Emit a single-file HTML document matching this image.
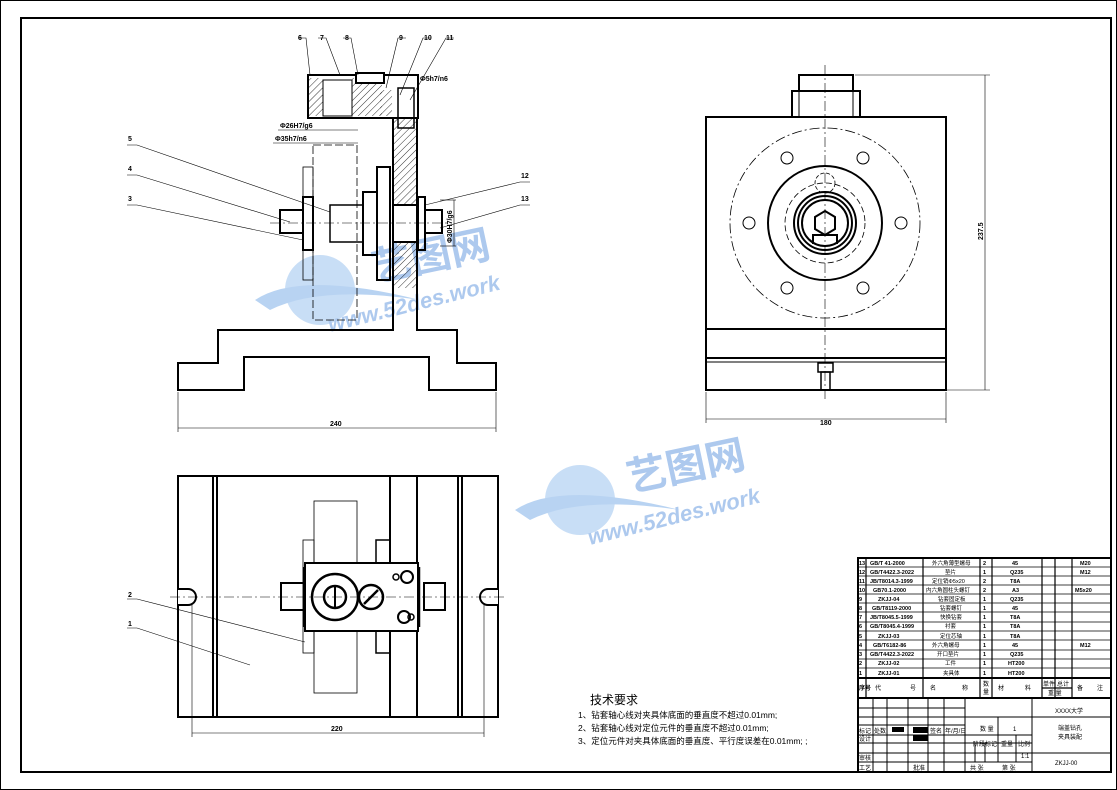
<!DOCTYPE html>
<html><head><meta charset="utf-8"><style>
html,body{margin:0;padding:0;background:#fff}
svg{display:block}
text{font-family:"Liberation Sans","Noto Sans CJK SC",sans-serif;fill:#000}
</style></head><body>
<svg width="1117" height="790" viewBox="0 0 1117 790" xmlns="http://www.w3.org/2000/svg">
<defs>
<pattern id="h" width="5" height="5" patternUnits="userSpaceOnUse" patternTransform="rotate(45)"><line x1="0" y1="0" x2="0" y2="5" stroke="#000" stroke-width="0.8"/></pattern>
</defs>
<rect x="0.5" y="0.5" width="1116" height="789" fill="none" stroke="#000" stroke-width="1"/>
<rect x="21" y="18" width="1090" height="754" fill="none" stroke="#000" stroke-width="2"/>

<!-- watermarks -->
<g opacity="0.55">
<ellipse cx="320" cy="290" rx="35" ry="35" fill="#9cc3ee"/>
<path d="M255,300 Q300,270 420,300 Q320,285 270,310Z" fill="#7fb0e8"/>
<text x="375" y="282" font-size="40" font-weight="bold" fill="#6a9de0" style="fill:#6a9de0" transform="rotate(-12 375 282)">艺图网</text>
<text x="330" y="332" font-size="22" font-weight="bold" font-style="italic" style="fill:#6a9de0" transform="rotate(-14 330 332)">www.52des.work</text>
<ellipse cx="580" cy="500" rx="35" ry="35" fill="#9cc3ee"/>
<path d="M515,510 Q560,480 680,510 Q580,495 530,520Z" fill="#7fb0e8"/>
<text x="630" y="492" font-size="40" font-weight="bold" style="fill:#6a9de0" transform="rotate(-12 630 492)">艺图网</text>
<text x="590" y="545" font-size="22" font-weight="bold" font-style="italic" style="fill:#6a9de0" transform="rotate(-14 590 545)">www.52des.work</text>
</g>

<!-- FRONT VIEW -->
<g fill="none" stroke="#000">
<polygon stroke-width="2" points="178,390 178,363 218,363 218,330 393,330 393,118 417,118 417,330 457,330 457,363 496,363 496,390 429,390 429,357 244,357 244,390"/>
<rect x="393" y="118" width="24" height="170" fill="url(#h)" stroke-width="0"/>
<rect x="308" y="75" width="110" height="43" stroke-width="2"/>
<rect x="309" y="78" width="14" height="38" fill="url(#h)" stroke-width="0"/>
<rect x="352" y="78" width="30" height="38" fill="url(#h)" stroke-width="0"/>
<rect x="380" y="90" width="12" height="26" fill="url(#h)" stroke-width="0"/>
<rect x="323" y="80" width="29" height="36" stroke-width="1"/>
<rect x="356" y="73" width="28" height="10" stroke-width="2" fill="#fff"/>
<rect x="398" y="88" width="16" height="40" stroke-width="1.5"/>
<rect x="303" y="197" width="10" height="53" stroke-width="2"/>
<rect x="280" y="210" width="23" height="23" stroke-width="2"/>
<rect x="330" y="205" width="33" height="37" stroke-width="1.5"/>
<rect x="363" y="192" width="14" height="63" stroke-width="2"/>
<rect x="377" y="167" width="13" height="113" stroke-width="2"/>
<rect x="393" y="205" width="24" height="37" fill="#fff" stroke-width="2"/>
<rect x="418" y="197" width="7" height="53" stroke-width="2"/>
<rect x="425" y="210" width="17" height="23" stroke-width="2"/>
<rect x="313" y="145" width="44" height="175" stroke-width="0.8" stroke-dasharray="8,3"/>
<rect x="303" y="167" width="10" height="113" stroke-width="0.8"/>
<line x1="270" y1="223" x2="450" y2="223" stroke-width="0.6" stroke-dasharray="10,3,2,3"/>
<line x1="278" y1="130" x2="358" y2="130" stroke-width="0.6"/>
<line x1="273" y1="143" x2="358" y2="143" stroke-width="0.6"/>
<line x1="178" y1="392" x2="178" y2="432" stroke-width="0.6"/>
<line x1="496" y1="392" x2="496" y2="432" stroke-width="0.6"/>
<line x1="178" y1="428" x2="496" y2="428" stroke-width="0.6"/>
<g stroke-width="0.6">
<polyline points="298,38 306,38 310,75"/><polyline points="318,38 326,38 340,75"/><polyline points="343,38 351,38 358,75"/>
<polyline points="406,38 398,38 386,88"/><polyline points="431,38 423,38 400,95"/><polyline points="454,38 446,38 410,100"/>
<polyline points="127,145 137,145 330,212"/><polyline points="127,175 137,175 290,222"/><polyline points="127,205 137,205 303,240"/>
<polyline points="530,182 520,182 425,205"/><polyline points="530,205 520,205 440,228"/>
<line x1="440" y1="200" x2="456" y2="200"/><line x1="440" y1="246" x2="456" y2="246"/><line x1="454" y1="200" x2="454" y2="246"/>
</g>
</g>
<g font-size="7" font-weight="bold">
<text x="298" y="40">6</text><text x="320" y="40">7</text><text x="345" y="40">8</text><text x="399" y="40">9</text><text x="424" y="40">10</text><text x="446" y="40">11</text>
<text x="128" y="141">5</text><text x="128" y="171">4</text><text x="128" y="201">3</text>
<text x="521" y="178">12</text><text x="521" y="201">13</text>
<text x="280" y="128">Φ26H7/g6</text><text x="275" y="141">Φ35h7/n6</text><text x="420" y="81">Φ5h7/n6</text>
<text x="452" y="243" transform="rotate(-90 452 243)">Φ30H7/g6</text>
<text x="330" y="426">240</text>
</g>

<!-- RIGHT VIEW -->
<g fill="none" stroke="#000">
<rect x="706" y="117" width="240" height="273" stroke-width="2"/>
<line x1="706" y1="329" x2="946" y2="329" stroke-width="2"/>
<line x1="706" y1="358" x2="946" y2="358" stroke-width="2"/>
<line x1="706" y1="362" x2="946" y2="362" stroke-width="1"/>
<rect x="792" y="91" width="68" height="26" stroke-width="2"/>
<rect x="799" y="75" width="54" height="16" stroke-width="2"/>
<line x1="799" y1="91" x2="799" y2="117" stroke-width="1"/><line x1="853" y1="91" x2="853" y2="117" stroke-width="1"/>
<rect x="818" y="363" width="15" height="9" stroke-width="1.5"/>
<rect x="821" y="372" width="9" height="18" stroke-width="1.5"/>
<circle cx="825" cy="223" r="95" stroke-width="0.8" stroke-dasharray="10,3,2,3"/>
<g stroke-width="1"><circle cx="901" cy="223" r="6"/><circle cx="749" cy="223" r="6"/><circle cx="863" cy="158" r="6"/><circle cx="787" cy="158" r="6"/><circle cx="863" cy="288" r="6"/><circle cx="787" cy="288" r="6"/></g>
<circle cx="825" cy="223" r="57" stroke-width="2"/>
<circle cx="825" cy="223" r="40" stroke-width="0.8" stroke-dasharray="6,3"/>
<circle cx="825" cy="223" r="31" stroke-width="2"/>
<circle cx="825" cy="223" r="27" stroke-width="2"/>
<circle cx="825" cy="223" r="23" stroke-width="2"/>
<circle cx="825" cy="183" r="10" stroke-width="0.8" stroke-dasharray="4,2"/>
<polygon points="825,211 835,217 835,229 825,235 815,229 815,217" stroke-width="2"/>
<polyline points="813,244 813,235 837,235 837,244" stroke-width="2"/>
<line x1="825" y1="65" x2="825" y2="400" stroke-width="0.6" stroke-dasharray="10,3,2,3"/>
<g stroke-width="0.6">
<line x1="855" y1="75" x2="990" y2="75"/><line x1="946" y1="390" x2="990" y2="390"/><line x1="985" y1="75" x2="985" y2="390"/>
<line x1="706" y1="392" x2="706" y2="423"/><line x1="946" y1="392" x2="946" y2="423"/><line x1="706" y1="419" x2="946" y2="419"/>
</g>
</g>
<g font-size="7" font-weight="bold"><text x="820" y="425">180</text><text x="983" y="240" transform="rotate(-90 983 240)">237.5</text></g>

<!-- TOP VIEW -->
<g fill="none" stroke="#000">
<rect x="178" y="476" width="320" height="241" stroke-width="2"/>
<line x1="213" y1="476" x2="213" y2="717" stroke-width="2"/><line x1="217" y1="476" x2="217" y2="717" stroke-width="2"/>
<line x1="390" y1="476" x2="390" y2="717" stroke-width="2"/><line x1="417" y1="476" x2="417" y2="717" stroke-width="2"/>
<line x1="458" y1="476" x2="458" y2="717" stroke-width="2"/><line x1="462" y1="476" x2="462" y2="717" stroke-width="2"/>
<path d="M178,589 L188,589 A8,8 0 0 1 188,605 L178,605" stroke-width="2" fill="#fff"/>
<path d="M498,589 L488,589 A8,8 0 0 0 488,605 L498,605" stroke-width="2" fill="#fff"/>
<rect x="314" y="501" width="43" height="192" stroke-width="0.8"/>
<rect x="303" y="540" width="11" height="113" stroke-width="0.8"/>
<rect x="376" y="540" width="14" height="113" stroke-width="1.5"/>
<rect x="305" y="563" width="113" height="68" fill="#fff" stroke-width="2"/>
<line x1="304" y1="567" x2="304" y2="627" stroke-width="2.5"/><line x1="419" y1="567" x2="419" y2="627" stroke-width="2.5"/>
<rect x="281" y="583" width="24" height="27" stroke-width="2"/>
<rect x="424" y="583" width="21" height="27" stroke-width="2"/>
<circle cx="335" cy="597" r="23" stroke-width="2.5"/>
<circle cx="335" cy="597" r="11" stroke-width="2.5"/>
<line x1="335" y1="586" x2="335" y2="608" stroke-width="2"/>
<circle cx="371" cy="597" r="12" stroke-width="2.5"/>
<line x1="364" y1="604" x2="378" y2="590" stroke-width="2.5"/>
<circle cx="407" cy="577" r="6" stroke-width="2"/><circle cx="396" cy="577" r="3" stroke-width="1.5"/>
<circle cx="404" cy="617" r="6" stroke-width="2"/><circle cx="411" cy="617" r="3" stroke-width="1.5"/>
<line x1="170" y1="597" x2="505" y2="597" stroke-width="0.6" stroke-dasharray="10,3,2,3"/>
<g stroke-width="0.6">
<polyline points="127,599 137,599 305,642"/><polyline points="127,628 137,628 250,665"/>
<line x1="192" y1="605" x2="192" y2="737"/><line x1="484" y1="605" x2="484" y2="737"/><line x1="192" y1="733" x2="484" y2="733"/>
</g>
</g>
<g font-size="7" font-weight="bold"><text x="128" y="597">2</text><text x="128" y="626">1</text><text x="331" y="731">220</text></g>

<!-- tech requirements -->
<g font-family="Liberation Sans,Noto Sans CJK SC,sans-serif">
<text x="590" y="704" font-size="12">技术要求</text>
<text x="578" y="718" font-size="8.5">1、钻套轴心线对夹具体底面的垂直度不超过0.01mm;</text>
<text x="578" y="731" font-size="8.5">2、钻套轴心线对定位元件的垂直度不超过0.01mm;</text>
<text x="578" y="744" font-size="8.5">3、定位元件对夹具体底面的垂直度、平行度误差在0.01mm; ;</text>
</g>

<!-- TITLE BLOCK -->
<g fill="none" stroke="#000" stroke-width="1">
<rect x="858" y="558" width="253" height="214" stroke-width="2" fill="#fff"/>
<line x1="858" y1="678" x2="1111" y2="678" stroke-width="2"/>
<line x1="858" y1="698" x2="1111" y2="698" stroke-width="2"/>
<g stroke-width="0.8">
<line x1="858" y1="567" x2="1111" y2="567"/><line x1="858" y1="576" x2="1111" y2="576"/><line x1="858" y1="585" x2="1111" y2="585"/>
<line x1="858" y1="594" x2="1111" y2="594"/><line x1="858" y1="603" x2="1111" y2="603"/><line x1="858" y1="612" x2="1111" y2="612"/>
<line x1="858" y1="622" x2="1111" y2="622"/><line x1="858" y1="631" x2="1111" y2="631"/><line x1="858" y1="640" x2="1111" y2="640"/>
<line x1="858" y1="650" x2="1111" y2="650"/><line x1="858" y1="659" x2="1111" y2="659"/><line x1="858" y1="668" x2="1111" y2="668"/>
</g>
<g stroke-width="1.2">
<line x1="866" y1="558" x2="866" y2="698"/><line x1="923" y1="558" x2="923" y2="698"/><line x1="980" y1="558" x2="980" y2="698"/>
<line x1="992" y1="558" x2="992" y2="698"/><line x1="1042" y1="558" x2="1042" y2="698"/><line x1="1055" y1="558" x2="1055" y2="698"/>
<line x1="1072" y1="558" x2="1072" y2="698"/><line x1="1042" y1="688" x2="1072" y2="688"/>
</g>
<g stroke-width="1">
<line x1="965" y1="698" x2="965" y2="772"/><line x1="1032" y1="698" x2="1032" y2="772"/>
<line x1="858" y1="708" x2="965" y2="708"/><line x1="858" y1="717" x2="1111" y2="717"/><line x1="858" y1="725" x2="965" y2="725"/>
<line x1="858" y1="735" x2="1032" y2="735"/><line x1="858" y1="743" x2="1032" y2="743"/><line x1="858" y1="753" x2="1111" y2="753"/>
<line x1="858" y1="762" x2="1032" y2="762"/>
<line x1="873" y1="698" x2="873" y2="772"/><line x1="887" y1="698" x2="887" y2="772"/><line x1="908" y1="698" x2="908" y2="772"/>
<line x1="928" y1="698" x2="928" y2="772"/><line x1="944" y1="698" x2="944" y2="772"/>
<line x1="998" y1="717" x2="998" y2="743"/><line x1="1016" y1="735" x2="1016" y2="762"/><line x1="998" y1="743" x2="998" y2="762"/>
<line x1="975" y1="743" x2="975" y2="762"/><line x1="985" y1="743" x2="985" y2="762"/>
</g>
</g>
<rect x="892" y="727" width="12" height="5" fill="#000"/><rect x="913" y="727" width="15" height="6" fill="#000"/><rect x="913" y="735" width="15" height="6" fill="#000"/>
<g font-size="5.5" font-weight="bold">
<text x="859" y="565">13</text><text x="870" y="565">GB/T 41-2000</text><text x="932" y="565" font-weight="normal">外六角薄型螺母</text><text x="983" y="565">2</text><text x="1012" y="565">45</text><text x="1080" y="565">M20</text>
<text x="859" y="574">12</text><text x="870" y="574">GB/T4422.3-2022</text><text x="945" y="574" font-weight="normal">垫片</text><text x="983" y="574">1</text><text x="1010" y="574">Q235</text><text x="1080" y="574">M12</text>
<text x="859" y="583">11</text><text x="870" y="583">JB/T8014.3-1999</text><text x="932" y="583" font-weight="normal">定位销Φ5x20</text><text x="983" y="583">2</text><text x="1010" y="583">T8A</text>
<text x="859" y="592">10</text><text x="873" y="592">GB70.1-2000</text><text x="926" y="592" font-weight="normal">内六角圆柱头螺钉</text><text x="983" y="592">2</text><text x="1012" y="592">A3</text><text x="1075" y="592">M5x20</text>
<text x="859" y="601">9</text><text x="878" y="601">ZKJJ-04</text><text x="938" y="601" font-weight="normal">钻套固定板</text><text x="983" y="601">1</text><text x="1010" y="601">Q235</text>
<text x="859" y="610">8</text><text x="872" y="610">GB/T8119-2000</text><text x="940" y="610" font-weight="normal">钻套螺钉</text><text x="983" y="610">1</text><text x="1012" y="610">45</text>
<text x="859" y="619">7</text><text x="870" y="619">JB/T8045.5-1999</text><text x="940" y="619" font-weight="normal">快换钻套</text><text x="983" y="619">1</text><text x="1010" y="619">T8A</text>
<text x="859" y="628">6</text><text x="870" y="628">GB/T8045.4-1999</text><text x="945" y="628" font-weight="normal">衬套</text><text x="983" y="628">1</text><text x="1010" y="628">T8A</text>
<text x="859" y="638">5</text><text x="878" y="638">ZKJJ-03</text><text x="940" y="638" font-weight="normal">定位芯轴</text><text x="983" y="638">1</text><text x="1010" y="638">T8A</text>
<text x="859" y="647">4</text><text x="873" y="647">GB/T6182-86</text><text x="932" y="647" font-weight="normal">外六角螺母</text><text x="983" y="647">1</text><text x="1012" y="647">45</text><text x="1080" y="647">M12</text>
<text x="859" y="656">3</text><text x="870" y="656">GB/T4422.3-2022</text><text x="937" y="656" font-weight="normal">开口垫片</text><text x="983" y="656">1</text><text x="1010" y="656">Q235</text>
<text x="859" y="665">2</text><text x="878" y="665">ZKJJ-02</text><text x="945" y="665" font-weight="normal">工件</text><text x="983" y="665">1</text><text x="1008" y="665">HT200</text>
<text x="859" y="675">1</text><text x="878" y="675">ZKJJ-01</text><text x="943" y="675" font-weight="normal">夹具体</text><text x="983" y="675">1</text><text x="1008" y="675">HT200</text>
</g>
<g font-size="6">
<text x="859" y="690" font-weight="bold">序号</text><text x="875" y="690">代</text><text x="910" y="690">号</text><text x="930" y="690">名</text><text x="962" y="690">称</text>
<text x="983" y="686">数</text><text x="983" y="694">量</text><text x="998" y="690">材</text><text x="1025" y="690">料</text>
<text x="1043" y="686">单件</text><text x="1057" y="686">总计</text><text x="1048" y="695">重 量</text><text x="1077" y="690">备</text><text x="1097" y="690">注</text>
<text x="1055" y="713">XXXX大学</text>
<text x="1058" y="730">端盖钻孔</text><text x="1058" y="739">夹具装配</text>
<text x="1055" y="765">ZKJJ-00</text>
<text x="980" y="731">数 量</text><text x="1013" y="731">1</text>
<text x="973" y="746">阶段标记</text><text x="1001" y="746">重量</text><text x="1018" y="746">比例</text><text x="1021" y="758">1:1</text>
<text x="970" y="770">共   张</text><text x="1002" y="770">第   张</text>
<text x="859" y="733">标记</text><text x="874" y="733">处数</text><text x="930" y="733">签名</text><text x="945" y="733">年/月/日</text>
<text x="859" y="741">设计</text><text x="859" y="760">审核</text><text x="859" y="770">工艺</text><text x="913" y="770">批准</text>
</g>
</svg>
</body></html>
